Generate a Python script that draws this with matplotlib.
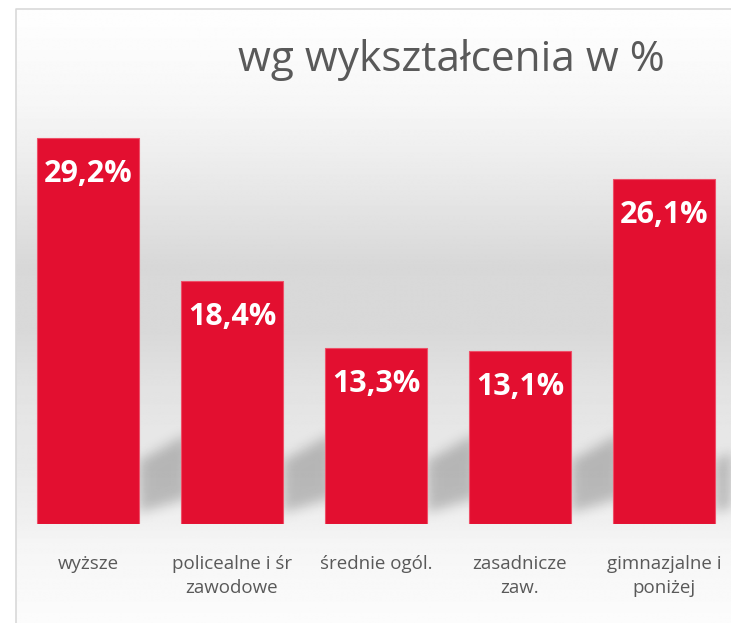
import numpy as np
import matplotlib

matplotlib.use("Agg")
import matplotlib.pyplot as plt

plt.rcParams["font.family"] = ["Open Sans", "DejaVu Sans"]

# --------------------------------------------------------------------------- #
# Data
# --------------------------------------------------------------------------- #
TITLE = "wg wykształcenia w %"
categories = ["wyższe", "policealne i śr\nzawodowe", "średnie ogól.",
              "zasadnicze\nzaw.", "gimnazjalne i\nponiżej"]
values = [29.2, 18.4, 13.3, 13.1, 26.1]
value_labels = ["29,2%", "18,4%", "13,3%", "13,1%", "26,1%"]

RED = "#E30F30"
TEXT = "#595959"

W, H = 731, 623
fig = plt.figure(figsize=(W / 100, H / 100), dpi=100)


def gauss_blur(a, sigma):
    """Separable gaussian blur with plain numpy."""
    r = int(3 * sigma)
    k = np.exp(-0.5 * (np.arange(-r, r + 1) / sigma) ** 2)
    k /= k.sum()
    a = np.apply_along_axis(lambda v: np.convolve(v, k, mode="same"), 0, a)
    a = np.apply_along_axis(lambda v: np.convolve(v, k, mode="same"), 1, a)
    return a


# --------------------------------------------------------------------------- #
# Background: grey vertical gradient inside a light frame
# --------------------------------------------------------------------------- #
bg = fig.add_axes([0, 0, 1, 1], zorder=-2)
bg.set_xlim(0, W)
bg.set_ylim(H, 0)
bg.axis("off")
stops_y = [8, 100, 180, 260, 330, 380, 420, 460, 520, 540, 600, 623]
stops_v = [254, 246, 232, 216, 217, 226, 230, 232, 240, 245, 250, 252]
grad = np.interp(np.arange(H), stops_y, stops_v) / 255.0
img = np.repeat(grad[:, None], 2, axis=1)
bg.imshow(img, cmap="gray", vmin=0, vmax=1, aspect="auto",
          extent=(15.5, W, H, 8.5), interpolation="bilinear")
bg.plot([15.5, 15.5, W], [H, 8.5, 8.5], color="#d9d9d9", lw=1.2)

# --------------------------------------------------------------------------- #
# Bars
# --------------------------------------------------------------------------- #
ax = fig.add_axes([16 / W, (H - 524) / H, (W - 16) / W, 424 / H])
ax.patch.set_alpha(0)
x = np.arange(len(values))
bw = 102 / 144
ax.set_xlim(-0.5, -0.5 + (W - 16) / 144)
ax.set_ylim(0, 424 / 13.22)

bars = ax.bar(x, values, width=bw, color=RED, edgecolor="#EE5068",
              linewidth=0.8, zorder=3)

for b, lab in zip(bars, value_labels):
    ax.annotate(lab, (b.get_x() + b.get_width() / 2, b.get_height()),
                xytext=(0, -26), textcoords="offset points",
                ha="center", va="center", color="white",
                fontsize=22, fontweight="bold", zorder=4)

ax.set_xticks(x)
ax.set_xticklabels(categories, fontsize=13.5, color=TEXT, linespacing=1.45,
                   va="top")
ax.tick_params(axis="x", length=0, pad=22)
ax.set_yticks([])
for sp in ax.spines.values():
    sp.set_visible(False)

# soft shadow cast up-right of each bar, placed from the bars' pixel extents
fig.canvas.draw()
px, py = np.meshgrid(np.arange(W), np.arange(H))
mask = np.zeros((H, W))
for b in bars:
    ext = b.get_window_extent()
    xr = ext.x1
    ybot = H - ext.y0
    d = px - xr
    top = ybot - 64 - 0.55 * d
    bot = ybot - 12 - 0.3 * d
    mask[(d >= 0) & (d <= 48) & (py >= top) & (py <= bot)] = 1.0
mask = gauss_blur(mask, 6)
shadow = np.zeros((H, W, 4))
shadow[..., 3] = mask * 0.22
bg.imshow(shadow, extent=(0, W, H, 0), aspect="auto", zorder=1)

fig.text(451 / W, 1 - 60 / H, TITLE, ha="center", va="center",
         fontsize=30.5, color=TEXT)

fig.savefig("out.png", dpi=100)
